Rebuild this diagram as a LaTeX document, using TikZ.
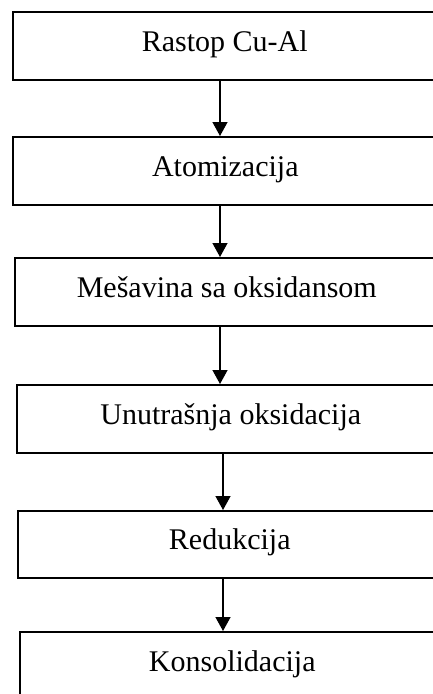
\documentclass[tikz,border=0pt]{standalone}
\usepackage{fontspec}
\setmainfont{Liberation Serif}
\usetikzlibrary{arrows.meta}
\begin{document}
\begin{tikzpicture}[x=1pt,y=-1pt,
  stepbox/.style={draw, line width=1.6pt, rectangle, anchor=north west, inner sep=0pt,
    minimum height=68pt, font=\fontsize{30}{31}\selectfont, text height=20pt, text depth=9.4pt},
  arr/.style={line width=1.4pt, -{Triangle[width=15pt,length=14pt]}}]
\useasboundingbox (0,0) rectangle (433,694);
\clip (0,0) rectangle (433,694);
\node[stepbox, minimum width=424pt] (b1) at (12,11) {Rastop Cu-Al};
\node[stepbox, minimum width=425pt] (b2) at (12,136) {Atomizacija};
\node[stepbox, minimum width=424pt] (b3) at (14,257) {Mešavina sa oksidansom};
\node[stepbox, minimum width=428pt] (b4) at (16,384) {Unutrašnja oksidacija};
\node[stepbox, minimum width=424pt, minimum height=67pt] (b5) at (17,510) {Redukcija};
\node[stepbox, minimum width=425pt] (b6) at (19,631) {Konsolidacija};
\coordinate (xa) at (220,0);
\coordinate (xb) at (223,0);
\draw[arr] (b1.south -| xa) -- (b2.north -| xa);
\draw[arr] (b2.south -| xa) -- (b3.north -| xa);
\draw[arr] (b3.south -| xa) -- (b4.north -| xa);
\draw[arr] (b4.south -| xb) -- (b5.north -| xb);
\draw[arr] (b5.south -| xb) -- (b6.north -| xb);
\end{tikzpicture}
\end{document}
